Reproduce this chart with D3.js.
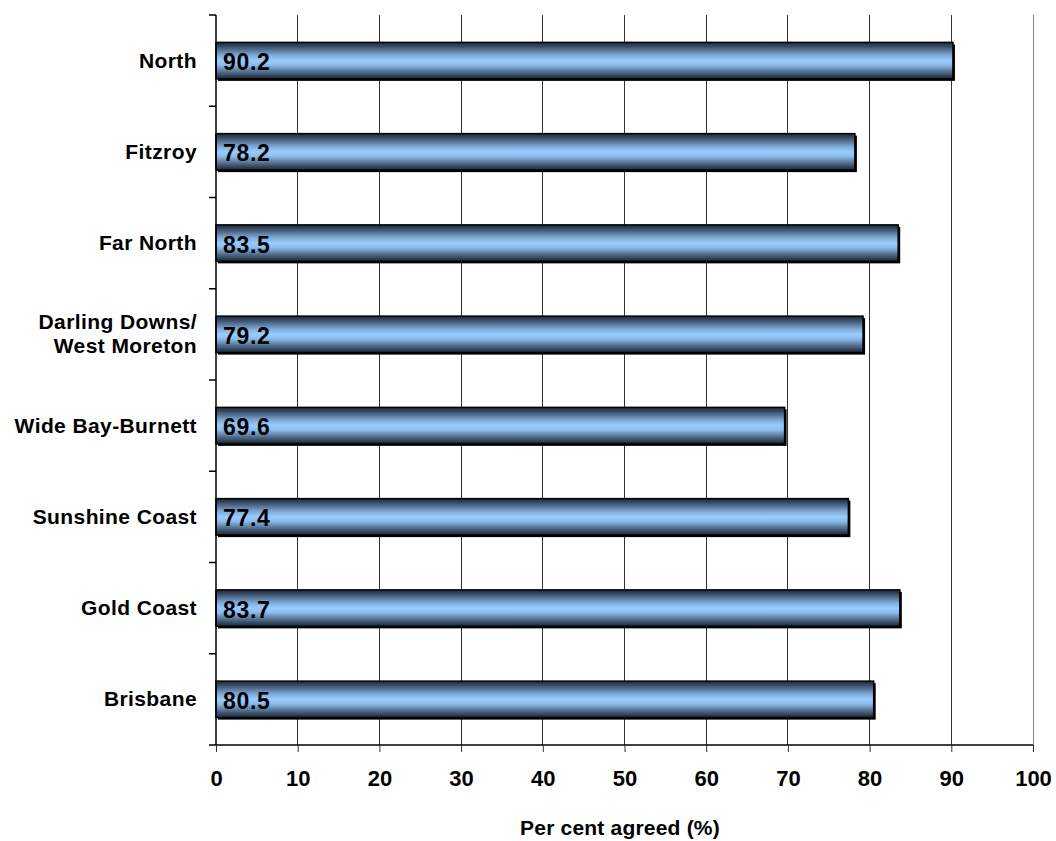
<!DOCTYPE html>
<html>
<head>
<meta charset="utf-8">
<script src="https://cdn.jsdelivr.net/npm/d3@7"></script>
<style>
  html, body { margin: 0; padding: 0; background: #fff; }
  svg { display: block; }
  text { font-family: "Liberation Sans", Arial, sans-serif; font-weight: bold; fill: #000; }
</style>
</head>
<body>
<svg id="chart" width="1056" height="841"></svg>
<script>
// Regions, top to bottom, and the share of respondents who agreed
const regions = [
  ["North"],
  ["Fitzroy"],
  ["Far North"],
  ["Darling Downs/", "West Moreton"],
  ["Wide Bay-Burnett"],
  ["Sunshine Coast"],
  ["Gold Coast"],
  ["Brisbane"]
];
const agreed = [90.2, 78.2, 83.5, 79.2, 69.6, 77.4, 83.7, 80.5];
const xTicks = [0, 10, 20, 30, 40, 50, 60, 70, 80, 90, 100];
const xTitle = "Per cent agreed (%)";

const svg = d3.select("#chart");
const margin = { left: 216, right: 23, top: 15, bottom: 96 };
const width = 1056 - margin.left - margin.right;
const height = 841 - margin.top - margin.bottom;

const keys = regions.map(r => r.join(" "));
const data = keys.map((k, i) => ({ key: k, lines: regions[i], value: agreed[i] }));

const x = d3.scaleLinear().domain([0, 100]).range([0, width]);
const y = d3.scaleBand().domain(keys).range([0, height]).paddingInner(0.6).paddingOuter(0.3);

const defs = svg.append("defs");
const grad = defs.append("linearGradient")
  .attr("id", "barFill").attr("x1", 0).attr("y1", 0).attr("x2", 0).attr("y2", 1);
[[0, "#1e2836"], [0.12, "#3a4f6a"], [0.35, "#7fa9d6"], [0.5, "#99ccff"], [0.62, "#8dbcec"], [0.82, "#4d6987"], [1, "#1a2330"]]
  .forEach(([o, c]) => grad.append("stop").attr("offset", o).attr("stop-color", c));

const g = svg.append("g").attr("transform", `translate(${margin.left},${margin.top})`);

// vertical gridlines
g.append("g").selectAll("line")
  .data(xTicks.filter(t => t > 0))
  .join("line")
  .attr("x1", d => x(d)).attr("x2", d => x(d))
  .attr("y1", 0).attr("y2", height)
  .attr("stroke", d => d === 100 ? "#808080" : "#333")
  .attr("stroke-width", 1)
  .attr("shape-rendering", "crispEdges");

// bars: shadow, then gradient body with black outline
const bars = g.append("g").selectAll("g").data(data).join("g");
bars.append("rect")
  .attr("x", 2).attr("y", d => y(d.key) + 2)
  .attr("width", d => x(d.value)).attr("height", y.bandwidth())
  .attr("fill", "#000");
bars.append("rect")
  .attr("x", 0).attr("y", d => y(d.key))
  .attr("width", d => x(d.value)).attr("height", y.bandwidth())
  .attr("fill", "url(#barFill)")
  .attr("stroke", "#000").attr("stroke-width", 1.5);

// value labels inside the bars
bars.append("text")
  .attr("x", 7)
  .attr("y", d => y(d.key) + y.bandwidth() / 2 + 9.5)
  .style("font-size", "23px")
  .style("letter-spacing", "0.7px")
  .text(d => d.value.toFixed(1));

// x axis
const xAxis = g.append("g").attr("transform", `translate(0,${height})`)
  .call(d3.axisBottom(x).tickValues(xTicks).tickSize(7).tickPadding(18).tickFormat(d3.format("d")));
xAxis.select(".domain").attr("stroke", "#000").attr("stroke-width", 1.5).attr("d", `M0,0H${width}`);
xAxis.selectAll(".tick line").attr("stroke", "#333");
xAxis.selectAll("text").style("font-size", "22px").attr("font-family", null);

// y axis with ticks between categories
g.append("line").attr("x1", 0).attr("x2", 0).attr("y1", 0).attr("y2", height)
  .attr("stroke", "#000").attr("stroke-width", 1.5);
g.append("g").selectAll("line")
  .data(d3.range(keys.length + 1))
  .join("line")
  .attr("x1", -7).attr("x2", 0)
  .attr("y1", i => i * height / keys.length).attr("y2", i => i * height / keys.length)
  .attr("stroke", "#000").attr("stroke-width", 1.5);

// category labels
const cat = g.append("g").selectAll("text").data(data).join("text")
  .attr("text-anchor", "end")
  .attr("x", -19)
  .style("font-size", "21px")
  .style("letter-spacing", "0.4px");
cat.each(function (d) {
  const t = d3.select(this);
  const cy = y(d.key) + y.bandwidth() / 2;
  const n = d.lines.length;
  d.lines.forEach((line, i) => {
    t.append("tspan").attr("x", -19)
      .attr("y", cy + 7 + (i - (n - 1) / 2) * 24)
      .text(line);
  });
});

// axis title
svg.append("text")
  .attr("x", 620)
  .attr("y", 835)
  .attr("text-anchor", "middle")
  .style("font-size", "21px")
  .style("letter-spacing", "0.2px")
  .text(xTitle);
</script>
</body>
</html>
